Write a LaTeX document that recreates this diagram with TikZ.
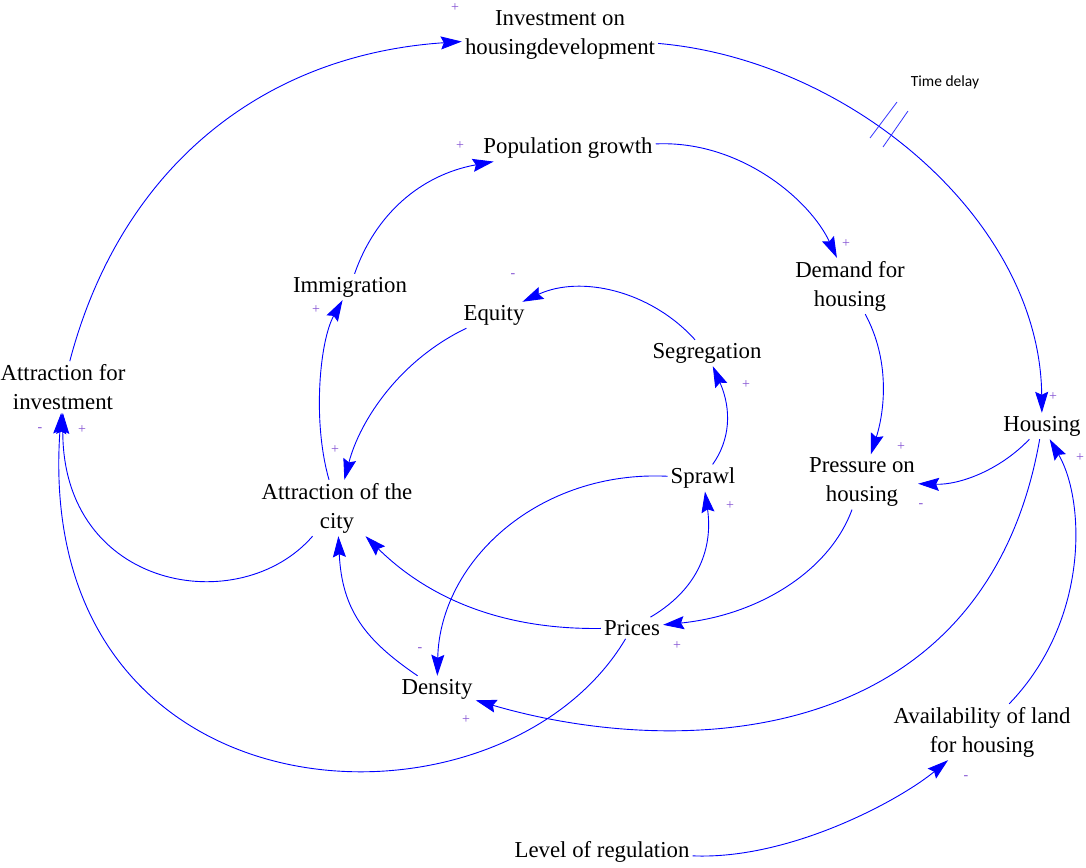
\documentclass[tikz,border=0pt]{standalone}
\usepackage{fontspec}
\setmainfont{Liberation Serif}
\newfontfamily\notefont{Carlito}
\usetikzlibrary{arrows.meta}
\definecolor{linkblue}{RGB}{0,0,255}
\definecolor{signpurple}{RGB}{130,80,210}
\tikzstyle{var} = [align=center, inner sep=3pt, font=\fontsize{22.8}{29}\selectfont]
\tikzstyle{link} = [draw=linkblue, line width=0.9pt, -{Stealth[length=21pt,width=13pt,inset=3pt]}]
\tikzstyle{polsign} = [text=signpurple, inner sep=0pt, font=\fontsize{14}{14}\selectfont]
\tikzstyle{delaymark} = [draw=linkblue!80, line width=0.8pt]

\begin{document}
\begin{tikzpicture}[x=1pt,y=-1pt]
		\useasboundingbox (0,0) rectangle (1086,867);
		% variables
		\node[var] (inv) at (560,35) {Investment on\\housingdevelopment};
		\node[var] (pop) at (568,148) {Population growth};
		\node[var] (imm) at (350,287) {Immigration};
		\node[var] (eq) at (494,315) {Equity};
		\node[var] (dem) at (850,286) {Demand for\\housing};
		\node[var] (seg) at (707,353) {Segregation};
		\node[var] (attinv) at (63,387) {Attraction for\\investment};
		\node[var] (hous) at (1042,426) {Housing};
		\node[var] (press) at (862,482) {Pressure on\\housing};
		\node[var] (spr) at (703,478) {Sprawl};
		\node[var] (attcity) at (337,508) {Attraction of the\\city};
		\node[var] (prices) at (632,628) {Prices};
		\node[var] (dens) at (437,689) {Density};
		\node[var] (avail) at (982,732) {Availability of land\\for housing};
		\node[var] (reg) at (602,852) {Level of regulation};
		\node[font=\notefont\fontsize{15.5}{15.5}\selectfont] (delay) at (945,82) {Time delay};
		% links
		\draw[link] (attinv) .. controls (120,170) and (260,55) .. (inv);
		\draw[link] (inv) .. controls (850,60) and (1040,220) .. (hous);
		\draw[link] (imm) .. controls (375,215) and (420,175) .. (pop);
		\draw[link] (pop) .. controls (740,140) and (810,200) .. (dem);
		\draw[link] (dem) .. controls (890,360) and (885,410) .. (press);
		\draw[link] (hous) .. controls (1000,470) and (960,485) .. (press);
		\draw[link] (hous) .. controls (985,750) and (680,760) .. (dens);
		\draw[link] (avail) .. controls (1090,620) and (1085,500) .. (hous);
		\draw[link] (reg) .. controls (790,860) and (900,800) .. (avail);
		\draw[link] (press) .. controls (830,570) and (760,615) .. (prices);
		\draw[link] (prices) .. controls (705,585) and (712,540) .. (spr);
		\draw[link] (spr) .. controls (730,440) and (732,410) .. (seg);
		\draw[link] (seg) .. controls (650,290) and (580,275) .. (eq);
		\draw[link] (eq) .. controls (400,360) and (360,420) .. (attcity);
		\draw[link] (attcity) .. controls (312,420) and (320,340) .. (imm);
		\draw[link] (attcity) .. controls (240,620) and (62,590) .. (attinv);
		\draw[link] (prices) .. controls (490,630) and (420,590) .. (attcity);
		\draw[link] (dens) .. controls (365,640) and (342,610) .. (attcity);
		\draw[link] (spr) .. controls (540,470) and (440,560) .. (dens);
		\draw[link] (prices) .. controls (500,850) and (32,830) .. (attinv);
		% time delay marks
		\draw[delaymark] (870,138) -- (897,102);
		\draw[delaymark] (883,147) -- (908,111);
		% polarities
		\node[polsign] at (455,8) {+};
		\node[polsign] at (1053,397) {+};
		\node[polsign] at (460,146) {+};
		\node[polsign] at (846,244) {+};
		\node[polsign] at (901,447) {+};
		\node[polsign] at (921,506) {-};
		\node[polsign] at (466,720) {+};
		\node[polsign] at (1080,458) {+};
		\node[polsign] at (966,778) {-};
		\node[polsign] at (677,646) {+};
		\node[polsign] at (730,506) {+};
		\node[polsign] at (746,385) {+};
		\node[polsign] at (513,276) {-};
		\node[polsign] at (335,450) {+};
		\node[polsign] at (316,310) {+};
		\node[polsign] at (40,430) {-};
		\node[polsign] at (82,430) {+};
		\node[polsign] at (420,650) {-};
	\end{tikzpicture}
\end{document}
